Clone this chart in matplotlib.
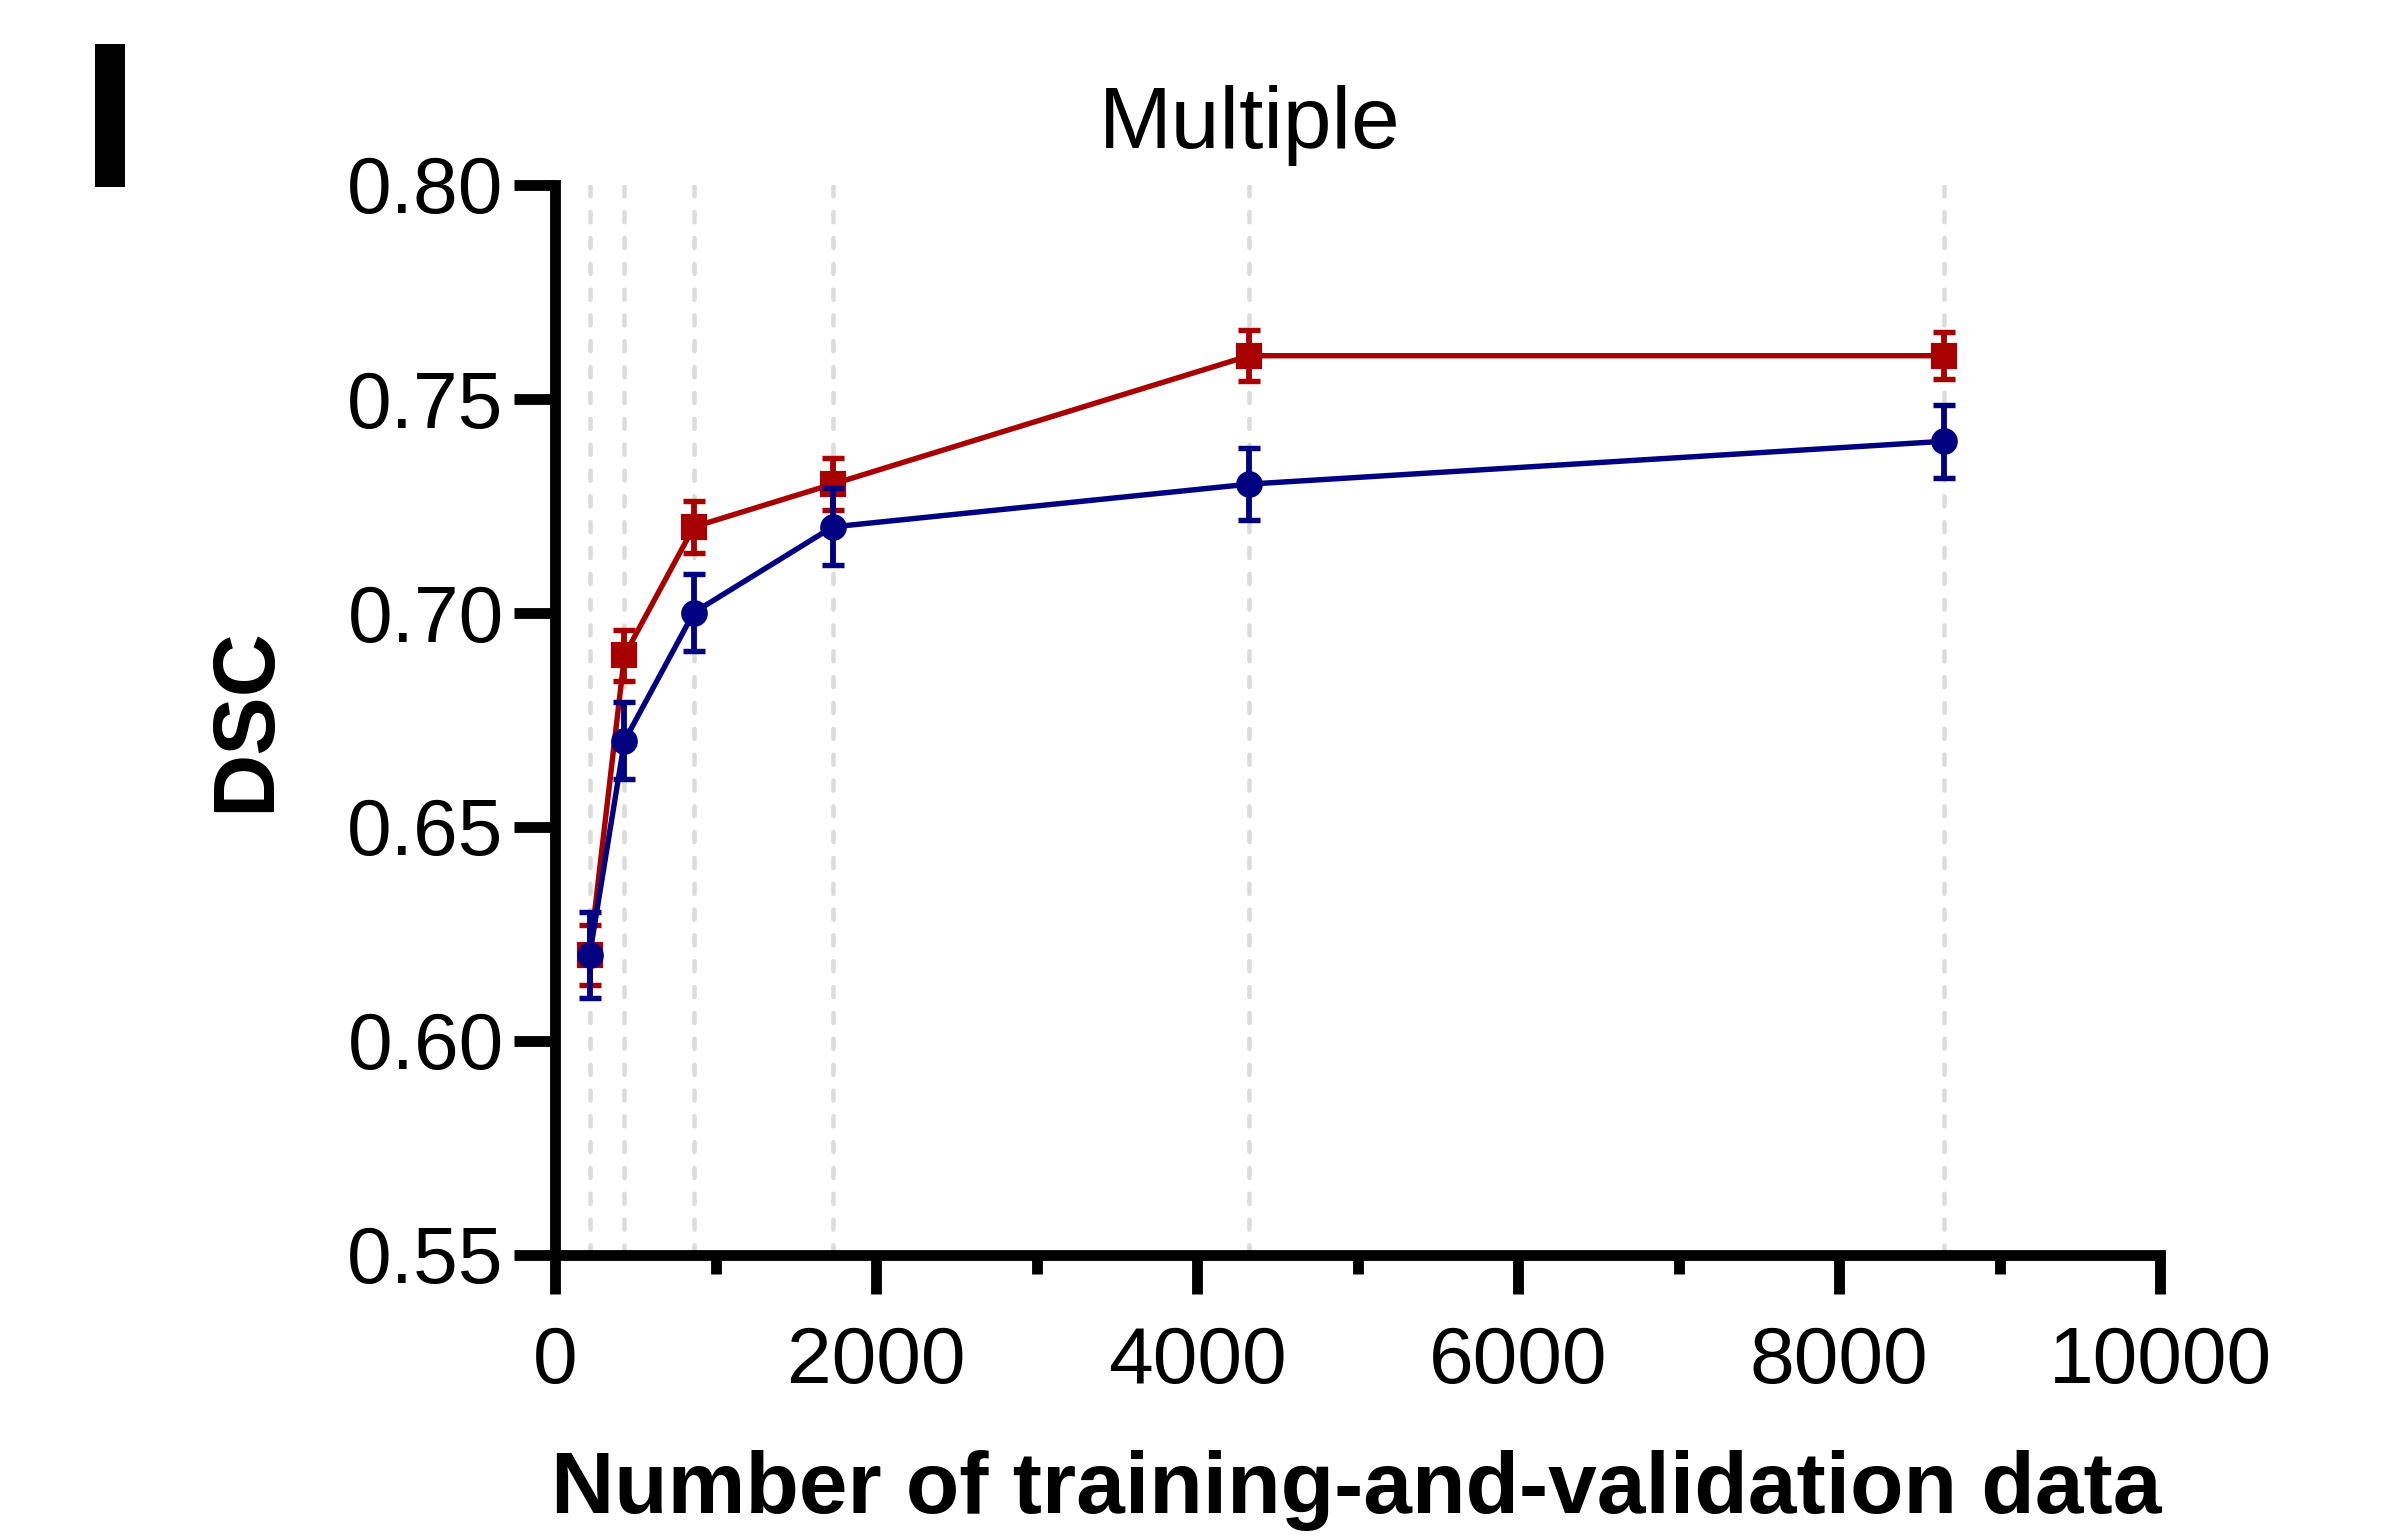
import matplotlib
matplotlib.use('Agg')
import matplotlib.pyplot as plt
from matplotlib.ticker import MultipleLocator, FormatStrFormatter

# 训练+验证数据量 和 两组的 DSC 均值/误差
data_size = [216, 433, 865, 1730, 4326, 8652]
red_dsc = [0.62, 0.69, 0.72, 0.73, 0.76, 0.76]
red_err = [0.007, 0.006, 0.006, 0.006, 0.006, 0.0055]
blue_dsc = [0.62, 0.67, 0.70, 0.72, 0.73, 0.74]
blue_err = [0.010, 0.009, 0.009, 0.009, 0.0085, 0.0085]

plt.rcParams['font.family'] = ['Liberation Sans', 'DejaVu Sans']
plt.rcParams['lines.scale_dashes'] = False

W, H = 2388, 1539
fig = plt.figure(figsize=(W / 300, H / 300), dpi=300)
ax = fig.add_axes([555 / W, 1 - 1254.5 / H, (2160 - 555) / W, (1254.5 - 184.5) / H])

# 竖直虚线标出每个数据量
for xv in data_size:
    ax.axvline(xv, color='#dcdcdc', lw=1.1, linestyle=(0, (2.4, 3.8)),
               dash_capstyle='round', zorder=0)

ax.errorbar(data_size, red_dsc, yerr=red_err, color='#a80000', marker='s', ms=5.2,
            lw=1.3, elinewidth=1.4, capsize=2.6, capthick=1.3, zorder=3)
ax.errorbar(data_size, blue_dsc, yerr=blue_err, color='#000080', marker='o', ms=5.4,
            lw=1.3, elinewidth=1.4, capsize=2.6, capthick=1.3, zorder=4)

ax.set_xlim(0, 10000)
ax.set_ylim(0.55, 0.80)
ax.xaxis.set_major_locator(MultipleLocator(2000))
ax.xaxis.set_minor_locator(MultipleLocator(1000))
ax.yaxis.set_major_locator(MultipleLocator(0.05))
ax.yaxis.set_major_formatter(FormatStrFormatter('%.2f'))

for side in ['top', 'right']:
    ax.spines[side].set_visible(False)
for side in ['left', 'bottom']:
    ax.spines[side].set_linewidth(2.6)
    ax.spines[side].set_capstyle('projecting')

ax.tick_params(axis='x', which='major', length=9.4, width=2.6, labelsize=19.3, pad=7.5)
ax.tick_params(axis='x', which='minor', length=4.6, width=2.6)
ax.tick_params(axis='y', which='major', length=9.8, width=2.6, labelsize=19.3, pad=2.5)

fig.text(1250 / W, 1 - 148 / H, 'Multiple', fontsize=21, ha='center', va='baseline')
fig.text(1356 / W, 1 - 1513 / H, 'Number of training-and-validation data',
         fontsize=21, fontweight='bold', ha='center', va='baseline')
fig.text(287 / W, 1 - 719.5 / H, 'DSC', fontsize=21, fontweight='bold',
         rotation=90, ha='right', va='center')
fig.text(110 / W, 1 - 187 / H, 'I', fontsize=50, fontweight='bold', ha='center', va='baseline')

plt.savefig('out.png', dpi=300)
